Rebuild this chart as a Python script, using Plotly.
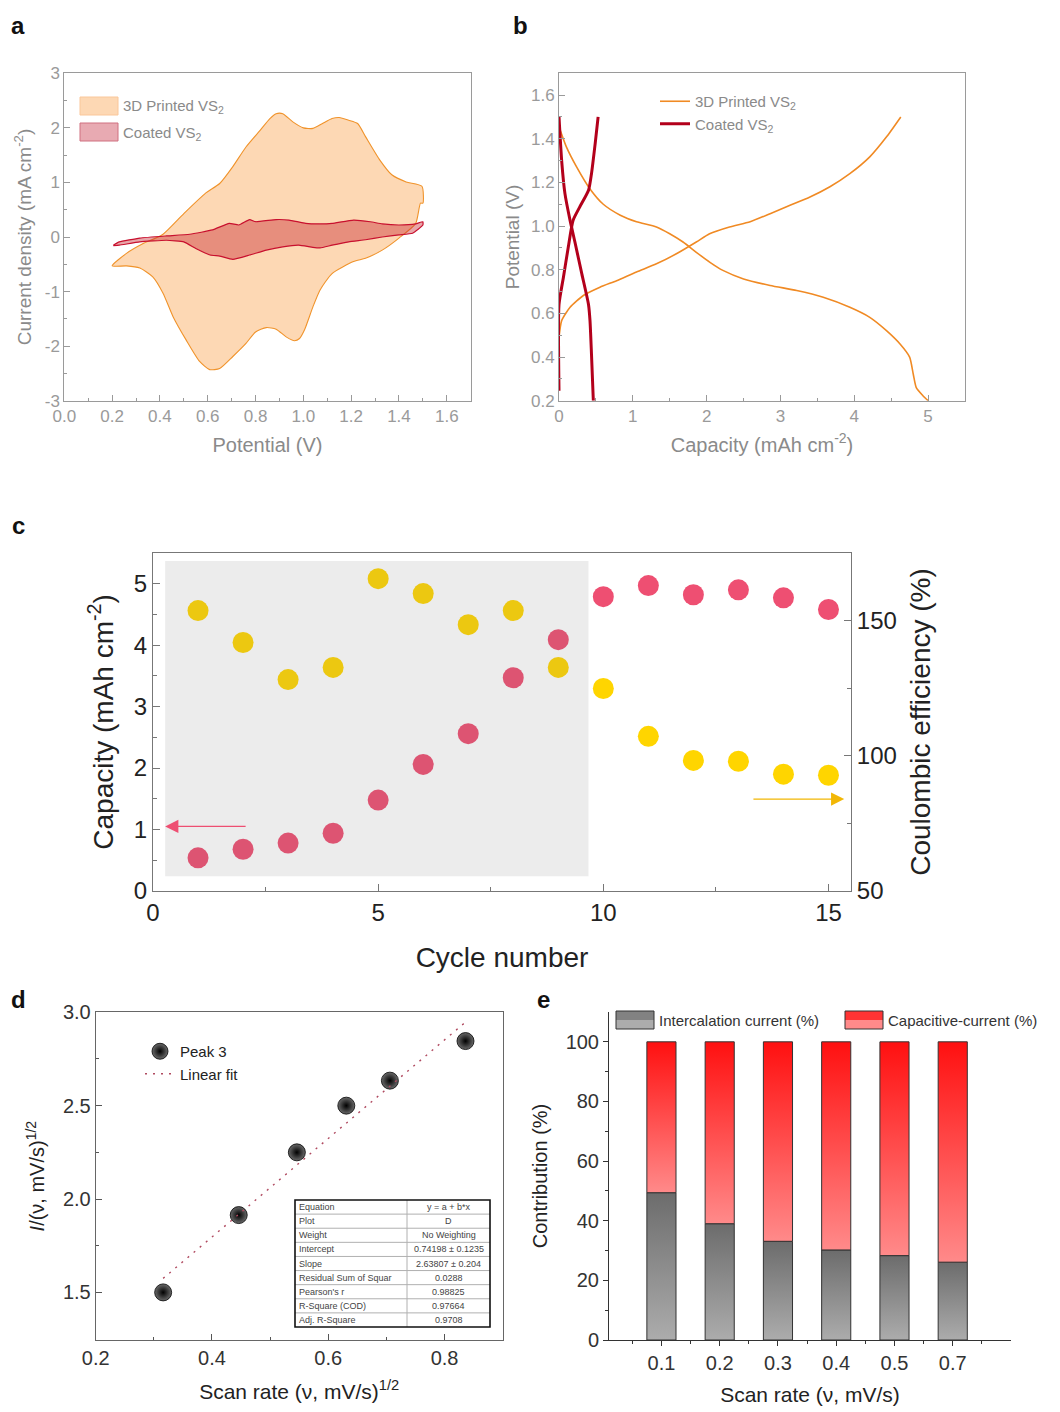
import plotly.graph_objects as go

W, H = 1060, 1412

# ---------------- Panel a: cyclic voltammetry ----------------
cv3d_fwd_v = [0.20, 0.26, 0.33, 0.41, 0.50, 0.59, 0.65, 0.705, 0.76, 0.82, 0.86, 0.886, 0.914, 0.956, 1.00, 1.04, 1.08, 1.12, 1.15, 1.19, 1.227, 1.26, 1.32, 1.37, 1.43, 1.496, 1.50]
cv3d_fwd_i = [-0.53, -0.30, -0.12, 0.04, 0.43, 0.80, 0.98, 1.29, 1.65, 1.96, 2.17, 2.26, 2.26, 2.11, 2.00, 1.99, 2.08, 2.17, 2.19, 2.14, 2.08, 1.84, 1.41, 1.14, 1.01, 0.93, 0.62]
cv3d_rev_v = [1.49, 1.47, 1.40, 1.33, 1.26, 1.21, 1.12, 1.07, 1.04, 1.005, 0.984, 0.963, 0.928, 0.886, 0.845, 0.80, 0.76, 0.705, 0.65, 0.608, 0.566, 0.51, 0.455, 0.413, 0.37, 0.316, 0.26, 0.20]
cv3d_rev_i = [0.62, 0.25, -0.02, -0.24, -0.39, -0.45, -0.67, -0.97, -1.28, -1.70, -1.86, -1.90, -1.83, -1.69, -1.66, -1.74, -1.95, -2.19, -2.41, -2.43, -2.28, -1.89, -1.46, -1.03, -0.73, -0.57, -0.53, -0.53]

cvco_fwd_v = [0.205, 0.23, 0.316, 0.427, 0.525, 0.62, 0.69, 0.73, 0.775, 0.80, 0.886, 0.94, 1.01, 1.07, 1.12, 1.21, 1.28, 1.33, 1.40, 1.47, 1.50]
cvco_fwd_i = [-0.15, -0.09, -0.02, 0.02, 0.05, 0.13, 0.25, 0.22, 0.32, 0.28, 0.32, 0.31, 0.25, 0.24, 0.25, 0.31, 0.28, 0.24, 0.22, 0.24, 0.28]
cvco_rev_v = [1.50, 1.457, 1.40, 1.33, 1.26, 1.19, 1.12, 1.07, 1.04, 0.98, 0.914, 0.845, 0.775, 0.705, 0.65, 0.61, 0.55, 0.50, 0.427, 0.316, 0.23, 0.205]
cvco_rev_i = [0.22, 0.07, 0.04, 0.00, -0.05, -0.09, -0.15, -0.20, -0.19, -0.15, -0.18, -0.24, -0.33, -0.41, -0.35, -0.33, -0.21, -0.09, -0.06, -0.09, -0.15, -0.16]
cv_yticks = [-3, -2, -1, 0, 1, 2, 3]
cv_yticklabels = ["-3", "-2", "-1", "0", "1", "2", "3"]

# ---------------- Panel b: charge / discharge ----------------
gcd3d_dis_cap = [0.0, 0.10, 0.24, 0.42, 0.60, 0.83, 1.05, 1.32, 1.50, 1.68, 1.86, 2.04, 2.22, 2.50, 2.86, 3.22, 3.58, 3.94, 4.21, 4.44, 4.62, 4.75, 4.80, 4.84, 4.93, 5.00]
gcd3d_dis_v = [1.455, 1.363, 1.27, 1.17, 1.10, 1.05, 1.02, 0.996, 0.965, 0.927, 0.88, 0.835, 0.797, 0.758, 0.728, 0.705, 0.674, 0.628, 0.582, 0.52, 0.46, 0.40, 0.32, 0.26, 0.223, 0.20]
gcd3d_chg_cap = [0.0, 0.036, 0.15, 0.33, 0.555, 0.78, 1.05, 1.32, 1.59, 1.86, 2.04, 2.31, 2.59, 2.86, 3.13, 3.40, 3.67, 3.94, 4.21, 4.44, 4.63]
gcd3d_chg_v = [0.49, 0.567, 0.628, 0.682, 0.72, 0.75, 0.79, 0.827, 0.873, 0.927, 0.965, 0.996, 1.02, 1.057, 1.095, 1.133, 1.18, 1.24, 1.317, 1.41, 1.50]
gcdco_dis_cap = [0.0, 0.036, 0.08, 0.15, 0.22, 0.31, 0.40, 0.42, 0.44, 0.465]
gcdco_dis_v = [1.50, 1.30, 1.15, 1.026, 0.92, 0.78, 0.64, 0.567, 0.414, 0.20]
gcdco_chg_cap = [0.0, 0.0, 0.06, 0.126, 0.19, 0.28, 0.40, 0.44, 0.49, 0.53]
gcdco_chg_v = [0.246, 0.64, 0.766, 0.904, 1.026, 1.087, 1.164, 1.24, 1.378, 1.50]

# ---------------- Panel c: cycling ----------------
cycles = list(range(1, 16))
capacity = [0.54, 0.68, 0.78, 0.94, 1.48, 2.06, 2.56, 3.47, 4.09, 4.79, 4.97, 4.82, 4.90, 4.77, 4.58]
coulombic = [153.7, 141.9, 128.2, 132.7, 165.5, 160.0, 148.5, 153.7, 132.7, 124.9, 107.2, 98.3, 98.0, 93.2, 92.8]

# ---------------- Panel d: peak current vs sqrt(scan rate) ----------------
sqrt_rate = [0.316, 0.446, 0.546, 0.631, 0.706, 0.836]
peak3 = [1.50, 1.914, 2.25, 2.50, 2.634, 2.846]
fit_x = [0.316, 0.837]
fit_y = [1.575, 2.95]
table_rows = ["Equation", "Plot", "Weight", "Intercept", "Slope", "Residual Sum of Squar",
              "Pearson's r", "R-Square (COD)", "Adj. R-Square"]
table_vals = ["y = a + b*x", "D", "No Weighting", "0.74198 ± 0.1235", "2.63807 ± 0.204",
              "0.0288", "0.98825", "0.97664", "0.9708"]

# ---------------- Panel e: contributions ----------------
scan_rates = ["0.1", "0.2", "0.3", "0.4", "0.5", "0.7"]
intercalation = [49.4, 39.0, 33.1, 30.2, 28.3, 26.1]
capacitive = [50.6, 61.0, 66.9, 69.8, 71.7, 73.9]

FONT = "Liberation Sans, Arial, sans-serif"
GRAY_TXT = "#8a8a8a"
GRAY_GRAD = [[0, "#acacac"], [1, "#6c6c6c"]]
RED_GRAD = [[0, "#ff8a8a"], [1, "#ff1010"]]

fig = go.Figure()

# Panel a traces
fig.add_trace(go.Scatter(x=cv3d_fwd_v + cv3d_rev_v, y=cv3d_fwd_i + cv3d_rev_i, mode="lines",
                         fill="toself", fillcolor="#FDD8B4",
                         line=dict(color="#F0932B", width=1.1, shape="spline", smoothing=0.6),
                         xaxis="x", yaxis="y", showlegend=False, name="3D Printed VS2"))
fig.add_trace(go.Scatter(x=cvco_fwd_v + cvco_rev_v, y=cvco_fwd_i + cvco_rev_i, mode="lines",
                         fill="toself", fillcolor="rgba(200,40,50,0.42)",
                         line=dict(color="#C8102E", width=1.2, shape="spline", smoothing=0.4),
                         xaxis="x", yaxis="y", showlegend=False, name="Coated VS2"))

# Panel b traces
sp = dict(shape="spline", smoothing=0.6)
fig.add_trace(go.Scatter(x=gcd3d_dis_cap, y=gcd3d_dis_v, mode="lines", line=dict(color="#F08A24", width=1.6, **sp),
                         xaxis="x2", yaxis="y2", name="3D Printed VS<sub>2</sub>", legend="legend2", legendgroup="b1"))
fig.add_trace(go.Scatter(x=gcd3d_chg_cap, y=gcd3d_chg_v, mode="lines", line=dict(color="#F08A24", width=1.6, **sp),
                         xaxis="x2", yaxis="y2", showlegend=False, legendgroup="b1"))
fig.add_trace(go.Scatter(x=gcdco_dis_cap, y=gcdco_dis_v, mode="lines", line=dict(color="#B3001B", width=3, **sp),
                         xaxis="x2", yaxis="y2", name="Coated VS<sub>2</sub>", legend="legend2", legendgroup="b2"))
fig.add_trace(go.Scatter(x=gcdco_chg_cap, y=gcdco_chg_v, mode="lines", line=dict(color="#B3001B", width=3, **sp),
                         xaxis="x2", yaxis="y2", showlegend=False, legendgroup="b2"))

# Panel c traces
fig.add_trace(go.Scatter(x=cycles, y=coulombic, mode="markers",
                         marker=dict(color="#FFD500", size=21, line=dict(width=0)),
                         xaxis="x3", yaxis="y4", showlegend=False, name="Coulombic efficiency"))
fig.add_trace(go.Scatter(x=cycles, y=capacity, mode="markers",
                         marker=dict(color="#EE4F72", size=21, line=dict(width=0)),
                         xaxis="x3", yaxis="y3", showlegend=False, name="Capacity"))

# Panel d traces
fig.add_trace(go.Scatter(x=sqrt_rate, y=peak3, mode="markers", name="Peak 3",
                         marker=dict(size=17, color="#6a6a6a", gradient=dict(type="radial", color="#000000"),
                                     line=dict(color="#000", width=0.8)),
                         xaxis="x4", yaxis="y5", legend="legend3"))
fig.add_trace(go.Scatter(x=fit_x, y=fit_y, mode="lines", name="Linear fit",
                         line=dict(color="#b04a60", width=1.4, dash="2px,6px"),
                         xaxis="x4", yaxis="y5", legend="legend3"))

# Panel e traces: stacked bars with vertical gradient fills
bw = 0.5
for i, (lo, hi) in enumerate(zip(intercalation, capacitive)):
    xc = i + 1
    xs = [xc - bw / 2, xc + bw / 2, xc + bw / 2, xc - bw / 2, xc - bw / 2]
    fig.add_trace(go.Scatter(x=xs, y=[0, 0, lo, lo, 0], mode="lines", fill="toself",
                             fillgradient=dict(type="vertical", colorscale=GRAY_GRAD),
                             line=dict(color="#333", width=1), xaxis="x5", yaxis="y6",
                             showlegend=False, name="Intercalation current (%)", hoverinfo="skip"))
    top = lo + hi
    fig.add_trace(go.Scatter(x=xs, y=[lo, lo, top, top, lo], mode="lines", fill="toself",
                             fillgradient=dict(type="vertical", colorscale=RED_GRAD),
                             line=dict(color="#333", width=1), xaxis="x5", yaxis="y6",
                             showlegend=False, name="Capacitive-current (%)", hoverinfo="skip"))

def dom_x(a, b):
    return [a / W, b / W]

def dom_y(top, bottom):
    return [1 - bottom / H, 1 - top / H]

gray_axis = dict(showline=True, linecolor="#9a9a9a", linewidth=1, mirror=True, ticks="inside",
                 tickcolor="#9a9a9a", ticklen=6, showgrid=False, zeroline=False, automargin=False,
                 tickfont=dict(size=17, color="#9a9a9a", family=FONT))

layout = dict(
    width=W, height=H, margin=dict(l=0, r=0, t=0, b=0, autoexpand=False),
    paper_bgcolor="white", plot_bgcolor="white",
    font=dict(family=FONT),
    # panel a
    xaxis=dict(domain=dom_x(64.3, 470.7), anchor="y", range=[0, 1.7], dtick=0.2, tickformat=".1f",
               minor=dict(dtick=0.1, ticks="inside", ticklen=3, tickcolor="#9a9a9a"),
               title=dict(text="Potential (V)", font=dict(size=20, color=GRAY_TXT), standoff=12), **gray_axis),
    yaxis=dict(domain=dom_y(73.3, 400.7), anchor="x", range=[-3, 3], tickvals=cv_yticks, ticktext=cv_yticklabels,
               minor=dict(dtick=0.5, ticks="inside", ticklen=3, tickcolor="#9a9a9a"),
               title=dict(text="Current density (mA cm<sup>-2</sup>)", font=dict(size=19, color=GRAY_TXT), standoff=8),
               **gray_axis),
    # panel b
    xaxis2=dict(domain=dom_x(559, 965), anchor="y2", range=[0, 5.5], dtick=1,
                minor=dict(dtick=0.5, ticks="inside", ticklen=3, tickcolor="#9a9a9a"),
                title=dict(text="Capacity (mAh cm<sup>-2</sup>)", font=dict(size=20, color=GRAY_TXT), standoff=12),
                **gray_axis),
    yaxis2=dict(domain=dom_y(73.3, 400.7), anchor="x2", range=[0.2, 1.7], dtick=0.2, tickformat=".1f",
                minor=dict(dtick=0.1, ticks="inside", ticklen=3, tickcolor="#9a9a9a"),
                title=dict(text="Potential (V)", font=dict(size=19, color=GRAY_TXT), standoff=6),
                **gray_axis),
    # panel c
    xaxis3=dict(domain=dom_x(153, 851), anchor="y3", range=[0, 15.5], tickvals=[0, 5, 10, 15],
                minor=dict(tickvals=[2.5, 7.5, 12.5], ticks="inside", ticklen=4, tickcolor="#777"),
                showline=True, linecolor="#777", linewidth=1, mirror=True, ticks="inside", tickcolor="#777",
                ticklen=7, showgrid=False, zeroline=False, tickfont=dict(size=24, color="#222"), automargin=False,
                title=dict(text="Cycle number", font=dict(size=28, color="#222"), standoff=22)),
    yaxis3=dict(domain=dom_y(553, 891), anchor="x3", range=[0, 5.5], dtick=1,
                minor=dict(dtick=0.5, ticks="inside", ticklen=4, tickcolor="#777"),
                showline=True, linecolor="#777", linewidth=1, ticks="inside", tickcolor="#777", ticklen=7,
                showgrid=False, zeroline=False, tickfont=dict(size=24, color="#222"), automargin=False,
                title=dict(text="Capacity (mAh cm<sup>-2</sup>)", font=dict(size=28, color="#222"), standoff=12)),
    yaxis4=dict(overlaying="y3", anchor="x3", side="right", range=[50, 175], tickvals=[50, 100, 150],
                minor=dict(tickvals=[75, 125], ticks="inside", ticklen=4, tickcolor="#777"),
                showline=True, linecolor="#777", linewidth=1, ticks="inside", tickcolor="#777", ticklen=7,
                showgrid=False, zeroline=False, tickfont=dict(size=24, color="#222"), automargin=False,
                title=dict(text="Coulombic efficiency (%)", font=dict(size=28, color="#222"), standoff=14)),
    # panel d
    xaxis4=dict(domain=dom_x(95.7, 502.7), anchor="y5", range=[0.2, 0.9], dtick=0.2, tickformat=".1f",
                minor=dict(dtick=0.1, ticks="inside", ticklen=3, tickcolor="#555"),
                showline=True, linecolor="#666", linewidth=1, mirror=True, ticks="inside", tickcolor="#555",
                ticklen=6, showgrid=False, zeroline=False, tickfont=dict(size=20, color="#333"), automargin=False,
                title=dict(text="Scan rate (\u03bd, mV/s)<sup>1/2</sup>", font=dict(size=21, color="#222"), standoff=16)),
    yaxis5=dict(domain=dom_y(1012.3, 1340), anchor="x4", range=[1.245, 3.0], dtick=0.5, tickformat=".1f",
                tick0=1.5, minor=dict(dtick=0.25, ticks="inside", ticklen=3, tickcolor="#555"),
                showline=True, linecolor="#666", linewidth=1, mirror=True, ticks="inside", tickcolor="#555",
                ticklen=6, showgrid=False, zeroline=False, tickfont=dict(size=20, color="#333"), automargin=False,
                title=dict(text="<i>I</i>/(\u03bd, mV/s)<sup>1/2</sup>", font=dict(size=20, color="#222"), standoff=12)),
    # panel e
    xaxis5=dict(domain=dom_x(609, 1011), anchor="y6", range=[0.1, 7.0], tickvals=list(range(1, 7)),
                ticktext=scan_rates, minor=dict(tickvals=[0.5, 1.5, 2.5, 3.5, 4.5, 5.5, 6.5], ticks="outside",
                                                ticklen=3, tickcolor="#333"),
                showline=True, linecolor="#333", linewidth=1, ticks="outside", tickcolor="#333", ticklen=5,
                showgrid=False, zeroline=False, tickfont=dict(size=20, color="#333"), automargin=False,
                title=dict(text="Scan rate (\u03bd, mV/s)", font=dict(size=21, color="#222"), standoff=14)),
    yaxis6=dict(domain=dom_y(1012, 1340), anchor="x5", range=[0, 110], tickvals=[0, 20, 40, 60, 80, 100],
                minor=dict(tickvals=[10, 30, 50, 70, 90], ticks="outside", ticklen=3, tickcolor="#333"),
                showline=True, linecolor="#333", linewidth=1, ticks="outside", tickcolor="#333", ticklen=5,
                showgrid=False, zeroline=False, tickfont=dict(size=20, color="#333"), automargin=False,
                title=dict(text="Contribution (%)", font=dict(size=20, color="#222"), standoff=12)),
    legend2=dict(x=655 / W, y=1 - 85 / H, xanchor="left", yanchor="top", bgcolor="rgba(0,0,0,0)",
                 font=dict(size=15, color=GRAY_TXT), tracegroupgap=0),
    legend3=dict(x=140 / W, y=1 - 1035 / H, xanchor="left", yanchor="top", bgcolor="rgba(0,0,0,0)",
                 font=dict(size=15, color="#222"), tracegroupgap=0),
)
fig.update_layout(**layout)

shapes = []
annotations = []

# Panel a legend (manual swatches)
shapes.append(dict(type="rect", xref="paper", yref="paper", x0=80 / W, x1=118 / W, y0=1 - 115 / H, y1=1 - 97 / H,
                   fillcolor="#FDD8B4", line=dict(color="#FAC79A", width=1)))
shapes.append(dict(type="rect", xref="paper", yref="paper", x0=80 / W, x1=118 / W, y0=1 - 141 / H, y1=1 - 123 / H,
                   fillcolor="#E8AAB2", line=dict(color="#D07080", width=1)))
annotations.append(dict(text="3D Printed VS<sub>2</sub>", xref="paper", yref="paper", x=121 / W, y=1 - 107 / H,
                        xanchor="left", yanchor="middle", showarrow=False, font=dict(size=15, color=GRAY_TXT)))
annotations.append(dict(text="Coated VS<sub>2</sub>", xref="paper", yref="paper", x=121 / W, y=1 - 133 / H,
                        xanchor="left", yanchor="middle", showarrow=False, font=dict(size=15, color=GRAY_TXT)))

# Panel c shaded region and arrows
shapes.append(dict(type="rect", xref="x3", yref="y3", x0=0.27, x1=9.67, y0=0.24, y1=5.37,
                   fillcolor="rgba(120,120,120,0.14)", line=dict(width=0), layer="above"))
annotations.append(dict(x=0.27, y=1.05, ax=2.09, ay=1.05, xref="x3", yref="y3", axref="x3", ayref="y3",
                        showarrow=True, arrowhead=2, arrowsize=2.2, arrowwidth=1.2, arrowcolor="#EE4F72", text=""))
annotations.append(dict(x=15.35, y=84, ax=13.3, ay=84, xref="x3", yref="y4", axref="x3", ayref="y4",
                        showarrow=True, arrowhead=2, arrowsize=2.2, arrowwidth=1.2, arrowcolor="#F2B705", text=""))

# Panel d inset table (drawn as a grid with text)
tx0, tx1, tcol, ty0, ty1 = 295, 490, 407, 1200, 1327
nrows = len(table_rows)
rh = (ty1 - ty0) / nrows
for r in range(1, nrows):
    yy = 1 - (ty0 + r * rh) / H
    shapes.append(dict(type="line", xref="paper", yref="paper", x0=tx0 / W, x1=tx1 / W, y0=yy, y1=yy,
                       line=dict(color="#b0b0b0", width=1)))
shapes.append(dict(type="line", xref="paper", yref="paper", x0=tcol / W, x1=tcol / W, y0=1 - ty1 / H, y1=1 - ty0 / H,
                   line=dict(color="#b0b0b0", width=1)))
shapes.append(dict(type="rect", xref="paper", yref="paper", x0=tx0 / W, x1=tx1 / W, y0=1 - ty1 / H, y1=1 - ty0 / H,
                   line=dict(color="#111", width=1.6), fillcolor="rgba(0,0,0,0)"))
for r, (lab, val) in enumerate(zip(table_rows, table_vals)):
    yc = 1 - (ty0 + (r + 0.5) * rh) / H
    annotations.append(dict(text=lab, xref="paper", yref="paper", x=(tx0 + 2) / W, y=yc, xanchor="left",
                            yanchor="middle", showarrow=False, font=dict(size=9, color="#444", family=FONT)))
    annotations.append(dict(text=val, xref="paper", yref="paper", x=((tcol + tx1) / 2) / W, y=yc, xanchor="center",
                            yanchor="middle", showarrow=False, font=dict(size=9, color="#444", family=FONT)))

# Panel e legend (manual, gradient-like two-tone swatches)
for (x0, x1, grad) in [(616, 654, GRAY_GRAD), (845, 883, RED_GRAD)]:
    shapes.append(dict(type="rect", xref="paper", yref="paper", x0=x0 / W, x1=x1 / W,
                       y0=1 - 1029 / H, y1=1 - 1020 / H, fillcolor=grad[0][1], line=dict(width=0)))
    shapes.append(dict(type="rect", xref="paper", yref="paper", x0=x0 / W, x1=x1 / W,
                       y0=1 - 1020 / H, y1=1 - 1011 / H, fillcolor=grad[1][1], line=dict(width=0), opacity=0.85))
    shapes.append(dict(type="rect", xref="paper", yref="paper", x0=x0 / W, x1=x1 / W,
                       y0=1 - 1029 / H, y1=1 - 1011 / H, fillcolor="rgba(0,0,0,0)", line=dict(color="#333", width=1)))
annotations.append(dict(text="Intercalation current (%)", xref="paper", yref="paper", x=657 / W, y=1 - 1020 / H,
                        xanchor="left", yanchor="middle", showarrow=False, font=dict(size=15, color="#333")))
annotations.append(dict(text="Capacitive-current (%)", xref="paper", yref="paper", x=886 / W, y=1 - 1020 / H,
                        xanchor="left", yanchor="middle", showarrow=False, font=dict(size=15, color="#333")))

# Panel labels
for lab, px, py in [("a", 18, 25), ("b", 520, 25), ("c", 18, 525), ("d", 18, 1000), ("e", 543, 1000)]:
    annotations.append(dict(text=f"<b>{lab}</b>", xref="paper", yref="paper", x=px / W, y=1 - py / H,
                            xanchor="center", yanchor="middle", showarrow=False,
                            font=dict(size=24, color="#111", family=FONT)))

fig.update_layout(shapes=shapes, annotations=annotations)
fig.write_html("out.html")
